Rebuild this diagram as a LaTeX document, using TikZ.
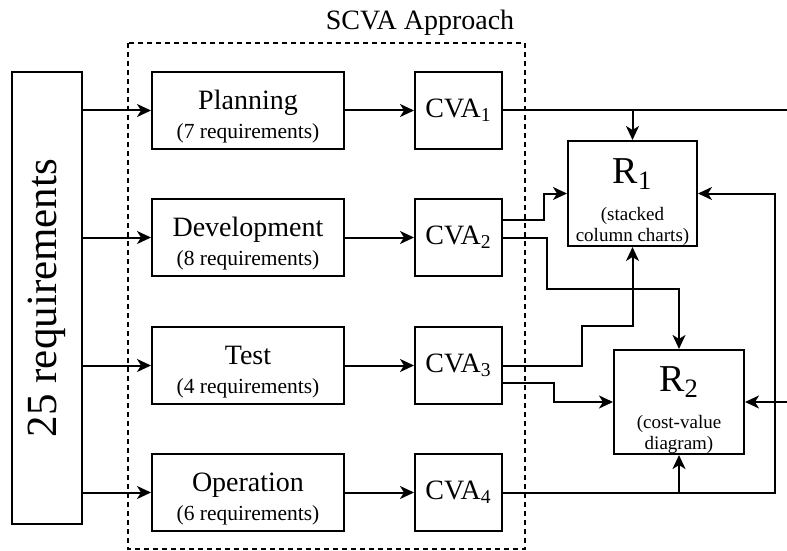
\documentclass[tikz,border=0pt]{standalone}
\usepackage{fontspec}
\setmainfont{Liberation Serif}
\usepackage{tikz}
\usetikzlibrary{positioning}
\usetikzlibrary{calc,arrows.meta}

\newcommand{\subreq}{\fontsize{10.75}{12}\selectfont}
\newcommand{\bigR}{\fontsize{19}{21}\selectfont}
\newcommand{\stagestrut}{\rule{0pt}{16pt}}
\newcommand{\resstrut}{\rule{0pt}{21pt}}

\tikzset{
	box/.style={draw, line width=1pt, rectangle, inner sep=0pt, align=center},
	stagebox/.style={box, minimum width=96pt, minimum height=38.5pt, font=\fontsize{14}{16.5}\selectfont},
	cvabox/.style={box, minimum width=43.5pt, minimum height=38.5pt, font=\fontsize{14}{16.5}\selectfont},
	resbox/.style={box, minimum width=65pt, minimum height=52.5pt, font=\fontsize{9.5}{10.5}\selectfont},
	wire/.style={line width=1pt},
	flow/.style={wire, -{Stealth[length=7pt, width=6.5pt, inset=2pt]}},
	approach/.style={line width=1pt, dash pattern=on 2.5pt off 2pt},
}

\begin{document}
\begin{tikzpicture}[x=0.5pt, y=-0.5pt]

	% ------------------------------------------------
	% Ensure the dimensions of graphic are appropriate
	\clip (0,0) rectangle (787,551);

	% ------------------------------------------------
	% Relevant coordinates
	\coordinate (scvaNW) at (128,43);
	\coordinate (scvaSE) at (525,549);
	\coordinate (edgeTop) at (796,110.5);

	% ----------------
	% Input block (rotated: its south side faces right)
	\node[box, rotate=90, minimum width=226pt, minimum height=35pt,
		font=\fontsize{21.5}{24}\selectfont] (reqs) at (46.5,298) {25 requirements};

	% ----------------
	% Phases
	\node[stagebox] (plan) at (248,110.5) {\stagestrut Planning\\[-2pt]{\subreq (7 requirements)}};
	\node[stagebox, below=24pt of plan] (dev) {\stagestrut Development\\[-2pt]{\subreq (8 requirements)}};
	\node[stagebox, below=24.5pt of dev] (test) {\stagestrut Test\\[-2pt]{\subreq (4 requirements)}};
	\node[stagebox, below=24pt of test] (oper) {\stagestrut Operation\\[-2pt]{\subreq (6 requirements)}};

	\node[cvabox, right=34.5pt of plan] (cva1) {CVA\textsubscript{1}};
	\node[cvabox, right=34.5pt of dev]  (cva2) {CVA\textsubscript{2}};
	\node[cvabox, right=34.5pt of test] (cva3) {CVA\textsubscript{3}};
	\node[cvabox, right=34.5pt of oper] (cva4) {CVA\textsubscript{4}};

	% ----------------
	% Results
	\node[resbox, minimum width=64.5pt] (r1) at (632.5,193.5)
		{{\bigR\resstrut R\textsubscript{1}}\\[8pt](stacked\\column charts)};
	\node[resbox, minimum height=52pt] (r2) at (679,402)
		{{\bigR\resstrut R\textsubscript{2}}\\[8pt](cost-value\\diagram)};

	% ----------------
	% SCVA frame
	\draw[approach] (scvaNW) rectangle (scvaSE);
	\node[font=\fontsize{14}{16}\selectfont] (scvaTitle) at (420,23) {SCVA Approach};

	%%%%%%%%%%%%%%%%%%%%%%%%%%%%%%%%%%%%%%%%%
	%Connectors
	\draw[flow] (reqs.south |- plan.west) -- (plan.west);
	\draw[flow] (reqs.south |- dev.west)  -- (dev.west);
	\draw[flow] (reqs.south |- test.west) -- (test.west);
	\draw[flow] (reqs.south |- oper.west) -- (oper.west);

	\draw[flow] (plan) -- (cva1);
	\draw[flow] (dev)  -- (cva2);
	\draw[flow] (test) -- (cva3);
	\draw[flow] (oper) -- (cva4);

	% CVA_1 to R_1 and (round the right edge) to R_2
	\draw[flow] (cva1.east) -- (edgeTop) |- (r2.east);
	\draw[flow] (r1.north |- cva1.east) -- (r1.north);

	% CVA_2
	\draw[flow] ($(cva2.east)+(0,-18)$) -- ++(41,0) |- (r1.west);
	\draw[flow] (cva2.east) -- ++(44,0) -- ++(0,51) -| (r2.north);

	% CVA_3
	\draw[flow] (cva3.east) -- ++(79,0) -- ++(0,-40) -| (r1.south);
	\draw[flow] ($(cva3.east)+(0,17.5)$) -- ++(51,0) |- (r2.west);

	% CVA_4
	\draw[flow] (cva4.east) -- ++(272,0) |- (r1.east);
	\draw[flow] (r2.south |- cva4.east) -- (r2.south);

\end{tikzpicture}
\end{document}
